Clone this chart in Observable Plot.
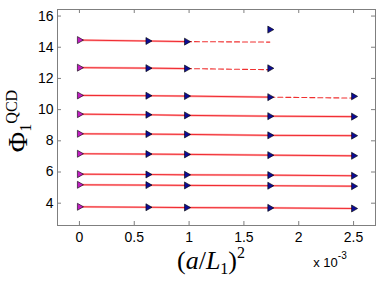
<!DOCTYPE html>
<html>
<head>
<meta charset="utf-8">
<script src="https://cdn.jsdelivr.net/npm/d3@7"></script>
<script src="https://cdn.jsdelivr.net/npm/@observablehq/plot@0.6"></script>
<style>
  html, body { margin: 0; padding: 0; background: #fff; }
  #chart { width: 378px; height: 284px; }
</style>
</head>
<body>
<div id="chart"></div>
<script>
// (a/L1)^2 values of the lattice points
const xs = [0, 1/1600, 1/1024, 1/576, 1/400];

// Phi_1^QCD data at each xs (null = no point)
const s1 = [14.46, 14.40, 14.36, 15.13, null];
const s2 = [12.69, 12.66, 12.63, 12.65, null];
const s3 = [10.91, 10.89, 10.87, 10.80, 10.85];
const s4 = [9.71, 9.67, 9.63, 9.58, 9.55];
const s5 = [8.45, 8.43, 8.41, 8.35, 8.33];
const s6 = [7.17, 7.15, 7.13, 7.08, 7.04];
const s7 = [5.86, 5.84, 5.82, 5.80, 5.76];
const s8 = [5.18, 5.16, 5.14, 5.12, 5.09];
const s9 = [3.77, 3.74, 3.72, 3.70, 3.66];
const series = [s1, s2, s3, s4, s5, s6, s7, s8, s9];

// number of points used in each continuum fit (solid red line)
const nFit = [3, 3, 4, 5, 5, 5, 5, 5, 5];
// value of the dashed extrapolated fit at xs[nFit] (null = none)
const extEnd = [14.33, 12.56, 10.74, null, null, null, null, null, null];

const xTicks = [0, 0.0005, 0.001, 0.0015, 0.002, 0.0025];
const xTickLabels = ["0", "0.5", "1", "1.5", "2", "2.5"];
const yTicks = [4, 6, 8, 10, 12, 14, 16];

const W = 378, H = 284;
const mL = 57, mR = 3, mT = 9, mB = 59;
const plotW = W - mL - mR, plotH = H - mT - mB;
const tickLen = 4;

// build tables
const points = [];
const fitRows = [];
const extRows = [];
series.forEach((vals, si) => {
  vals.forEach((v, i) => {
    if (v != null) points.push({s: si, x: xs[i], y: v});
    if (v != null && i < nFit[si]) fitRows.push({s: si, x: xs[i], y: v});
  });
  if (extEnd[si] != null) {
    const last = nFit[si] - 1;
    extRows.push({s: si, x: xs[last], y: vals[last]});
    extRows.push({s: si, x: xs[nFit[si]], y: extEnd[si]});
  }
});

const axisColor = "#7f7f7f";

const chart = Plot.plot({
  width: W,
  height: H,
  marginLeft: mL,
  marginRight: mR,
  marginTop: mT,
  marginBottom: mB,
  style: {fontFamily: "'Liberation Sans', Arial, Helvetica, sans-serif", fontSize: "14px", color: "black", background: "white"},
  x: {domain: [-0.0002, 0.0027]},
  y: {domain: [2.57, 16.42]},
  marks: [
    Plot.frame({stroke: axisColor, strokeWidth: 1}),
    // inward tick marks on all four sides
    Plot.tickX(xTicks, {x: d => d, insetTop: plotH - tickLen, stroke: axisColor}),
    Plot.tickX(xTicks, {x: d => d, insetBottom: plotH - tickLen, stroke: axisColor}),
    Plot.tickY(yTicks, {y: d => d, insetRight: plotW - tickLen, stroke: axisColor}),
    Plot.tickY(yTicks, {y: d => d, insetLeft: plotW - tickLen, stroke: axisColor}),
    Plot.axisX({ticks: xTicks, tickFormat: (d, i) => xTickLabels[i], tickSize: 0, tickPadding: 7, label: null, fill: "black"}),
    Plot.axisY({ticks: yTicks, tickSize: 0, tickPadding: 4, label: null, fill: "black"}),
    // fit lines
    Plot.line(fitRows, {x: "x", y: "y", z: "s", stroke: "#ffb0b0", strokeWidth: 2.2}),
    Plot.line(fitRows, {x: "x", y: "y", z: "s", stroke: "#ee1c24", strokeWidth: 0.9}),
    Plot.line(extRows, {x: "x", y: "y", z: "s", stroke: "#f03030", strokeWidth: 1.1, strokeDasharray: "5,3"}),
    // markers
    Plot.dot(points.filter(d => d.x !== 0), {x: "x", y: "y", symbol: "triangle", rotate: 90, r: 2.6, fill: "#0c0c96", stroke: "black", strokeWidth: 0.6}),
    Plot.dot(points.filter(d => d.x === 0), {x: "x", y: "y", symbol: "triangle", rotate: 90, r: 2.6, fill: "#c21cc2", stroke: "black", strokeWidth: 0.6})
  ]
});

const svg = d3.select(chart);

// y label: Phi_1^QCD
const yl = svg.append("text")
  .attr("transform", "translate(27,121) rotate(-90)")
  .attr("text-anchor", "middle")
  .attr("font-family", "'Liberation Serif', 'DejaVu Serif', serif")
  .attr("font-size", 28)
  .attr("fill", "black");
yl.append("tspan").text("Φ");
yl.append("tspan").attr("font-size", 16).attr("dy", 4).text("1");
yl.append("tspan").attr("font-size", 16).attr("dy", -14).text("QCD");

// x label: (a/L_1)^2
const xl = svg.append("text")
  .attr("x", 211).attr("y", 269)
  .attr("text-anchor", "middle")
  .attr("font-family", "'Liberation Serif', 'DejaVu Serif', serif")
  .attr("font-size", 26)
  .attr("fill", "black");
xl.append("tspan").text("(");
xl.append("tspan").attr("font-style", "italic").text("a");
xl.append("tspan").text("/");
xl.append("tspan").attr("font-style", "italic").text("L");
xl.append("tspan").attr("font-size", 16).attr("dy", 5).text("1");
xl.append("tspan").attr("dy", -5).text(")");
xl.append("tspan").attr("font-size", 16).attr("dy", -11).text("2");

// exponent note
const ex = svg.append("text")
  .attr("x", 330).attr("y", 267)
  .attr("font-family", "'Liberation Sans', Arial, Helvetica, sans-serif")
  .attr("font-size", 13)
  .attr("fill", "black");
ex.append("tspan").text("x 10");
ex.append("tspan").attr("font-size", 10).attr("dy", -8).text("-3");

document.getElementById("chart").appendChild(chart);
</script>
</body>
</html>
